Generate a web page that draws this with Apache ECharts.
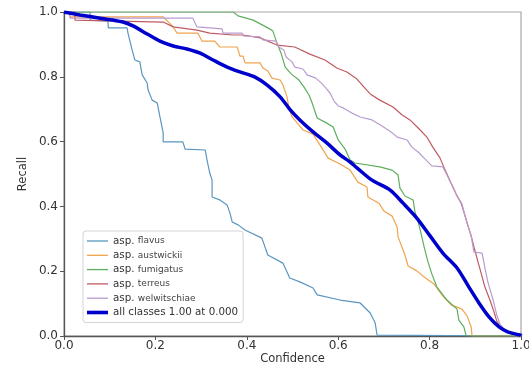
<!DOCTYPE html>
<html>
<head>
<meta charset="utf-8">
<script src="https://cdn.jsdelivr.net/npm/echarts@6/dist/echarts.min.js"></script>
<style>
  html, body { margin: 0; padding: 0; background: #fff; }
  #chart { width: 529px; height: 366px; }
</style>
</head>
<body>
<div id="chart"></div>
<script>
// Recall vs. confidence threshold, per class and over all classes
const xTicks = [0.0, 0.2, 0.4, 0.6, 0.8, 1.0];
const yTicks = [0.0, 0.2, 0.4, 0.6, 0.8, 1.0];

const classNames = ['flavus', 'austwickii', 'fumigatus', 'terreus', 'welwitschiae'];
const allLabel = 'all classes 1.00 at 0.000';

const flavus = [
  [0, 1.0], [0.057, 1.0], [0.057, 0.975], [0.096, 0.972], [0.097, 0.951], [0.138, 0.951],
  [0.140, 0.935], [0.149, 0.883], [0.155, 0.852], [0.166, 0.846], [0.171, 0.806], [0.182, 0.781],
  [0.184, 0.759], [0.193, 0.728], [0.204, 0.719], [0.210, 0.676], [0.217, 0.627], [0.217, 0.599],
  [0.260, 0.599], [0.265, 0.577], [0.309, 0.574], [0.313, 0.543], [0.319, 0.503], [0.324, 0.481],
  [0.324, 0.429], [0.341, 0.420], [0.357, 0.404], [0.363, 0.380], [0.368, 0.352], [0.381, 0.343],
  [0.396, 0.327], [0.433, 0.302], [0.446, 0.250], [0.479, 0.225], [0.494, 0.179], [0.516, 0.167],
  [0.545, 0.148], [0.554, 0.127], [0.604, 0.111], [0.648, 0.102], [0.670, 0.071], [0.681, 0.040],
  [0.685, 0.003], [0.685, 0], [1.0, 0]
];

const austwickii = [
  [0, 1.0], [0.013, 1.0], [0.013, 0.985], [0.217, 0.985], [0.239, 0.954], [0.247, 0.935],
  [0.293, 0.935], [0.302, 0.910], [0.330, 0.910], [0.341, 0.892], [0.379, 0.892], [0.385, 0.864],
  [0.392, 0.864], [0.396, 0.843], [0.429, 0.843], [0.435, 0.827], [0.446, 0.818], [0.455, 0.796],
  [0.473, 0.790], [0.479, 0.775], [0.488, 0.738], [0.492, 0.704], [0.499, 0.676], [0.523, 0.636],
  [0.545, 0.623], [0.560, 0.590], [0.578, 0.549], [0.604, 0.531], [0.626, 0.512], [0.643, 0.475],
  [0.663, 0.460], [0.665, 0.429], [0.689, 0.410], [0.700, 0.386], [0.718, 0.370], [0.729, 0.336],
  [0.731, 0.306], [0.746, 0.250], [0.753, 0.216], [0.772, 0.201], [0.788, 0.182], [0.810, 0.160],
  [0.829, 0.123], [0.847, 0.096], [0.871, 0.083], [0.882, 0.062], [0.891, 0.028], [0.893, 0], [1.0, 0]
];

const fumigatus = [
  [0, 1.0], [0.370, 1.0], [0.381, 0.988], [0.414, 0.975], [0.446, 0.951], [0.457, 0.941],
  [0.466, 0.904], [0.475, 0.873], [0.484, 0.830], [0.497, 0.809], [0.514, 0.790], [0.525, 0.769],
  [0.536, 0.744], [0.543, 0.719], [0.554, 0.673], [0.575, 0.657], [0.589, 0.645], [0.600, 0.605],
  [0.615, 0.577], [0.626, 0.543], [0.637, 0.534], [0.691, 0.522], [0.718, 0.512], [0.731, 0.497],
  [0.735, 0.457], [0.746, 0.432], [0.764, 0.420], [0.768, 0.383], [0.775, 0.352], [0.781, 0.318],
  [0.788, 0.275], [0.796, 0.231], [0.805, 0.191], [0.816, 0.151], [0.838, 0.111], [0.860, 0.083],
  [0.864, 0.049], [0.875, 0.028], [0.880, 0], [1.0, 0]
];

const terreus = [
  [0, 1.0], [0.024, 1.0], [0.024, 0.975], [0.217, 0.969], [0.239, 0.954], [0.291, 0.944],
  [0.319, 0.935], [0.370, 0.929], [0.392, 0.929], [0.429, 0.920], [0.466, 0.898], [0.505, 0.892],
  [0.538, 0.870], [0.571, 0.852], [0.597, 0.827], [0.619, 0.815], [0.641, 0.793], [0.656, 0.769],
  [0.670, 0.747], [0.691, 0.728], [0.720, 0.707], [0.740, 0.682], [0.757, 0.667], [0.775, 0.642],
  [0.794, 0.614], [0.807, 0.583], [0.823, 0.549], [0.834, 0.512], [0.845, 0.478], [0.858, 0.438],
  [0.869, 0.410], [0.875, 0.383], [0.884, 0.340], [0.891, 0.309], [0.897, 0.275], [0.906, 0.228],
  [0.912, 0.198], [0.921, 0.151], [0.932, 0.111], [0.941, 0.074], [0.947, 0.046], [0.956, 0.025],
  [0.976, 0.009], [0.998, 0], [1.0, 0]
];

const welwitschiae = [
  [0, 1.0], [0.013, 1.0], [0.013, 0.981], [0.282, 0.981], [0.291, 0.954], [0.346, 0.948],
  [0.348, 0.935], [0.390, 0.935], [0.392, 0.926], [0.429, 0.923], [0.435, 0.914], [0.464, 0.910],
  [0.470, 0.892], [0.481, 0.883], [0.486, 0.861], [0.499, 0.846], [0.505, 0.830], [0.523, 0.824],
  [0.532, 0.806], [0.551, 0.796], [0.565, 0.778], [0.575, 0.762], [0.582, 0.750], [0.591, 0.725],
  [0.600, 0.710], [0.611, 0.704], [0.630, 0.688], [0.648, 0.676], [0.674, 0.667], [0.696, 0.648],
  [0.718, 0.627], [0.729, 0.614], [0.751, 0.605], [0.761, 0.583], [0.775, 0.568], [0.788, 0.549],
  [0.805, 0.525], [0.829, 0.522], [0.838, 0.497], [0.849, 0.466], [0.860, 0.432], [0.871, 0.407],
  [0.877, 0.373], [0.884, 0.340], [0.891, 0.309], [0.897, 0.259], [0.915, 0.256], [0.921, 0.210],
  [0.928, 0.164], [0.939, 0.111], [0.947, 0.065], [0.954, 0.037], [0.967, 0.015], [0.980, 0.006],
  [0.998, 0], [1.0, 0]
];

const allClasses = [
  [0, 1.0], [0.035, 0.991], [0.079, 0.981], [0.107, 0.975], [0.129, 0.969], [0.151, 0.957],
  [0.182, 0.932], [0.210, 0.910], [0.239, 0.895], [0.269, 0.886], [0.298, 0.873], [0.326, 0.852],
  [0.357, 0.830], [0.385, 0.815], [0.418, 0.799], [0.444, 0.775], [0.473, 0.738], [0.495, 0.698],
  [0.516, 0.667], [0.545, 0.630], [0.575, 0.596], [0.604, 0.559], [0.626, 0.537], [0.641, 0.519],
  [0.674, 0.481], [0.713, 0.451], [0.742, 0.410], [0.772, 0.364], [0.801, 0.309], [0.829, 0.256],
  [0.860, 0.210], [0.886, 0.151], [0.908, 0.102], [0.930, 0.059], [0.952, 0.028], [0.972, 0.012],
  [0.998, 0.003], [1.0, 0]
];

const classData = [flavus, austwickii, fumigatus, terreus, welwitschiae];
const classColors = ['#5a96c0', '#f0a44e', '#5eae5e', '#c05a62', '#b99ccf'];
const allColor = '#0000cc';

const font = 'DejaVu Sans';
const fmt = v => Number(v).toFixed(1);

// Legend keys: a horizontal bar inside a fixed 21x14 box (the leading moves pin the box size)
const lineIcon = h => {
  const a = (7 - h / 2).toFixed(2), b = (7 + h / 2).toFixed(2);
  return 'path://M0,0 M21,14 M0,' + a + ' L21,' + a + ' L21,' + b + ' L0,' + b + ' Z';
};

const series = classNames.map((n, i) => ({
  name: 'asp. ' + n,
  type: 'line',
  data: classData[i],
  symbol: 'none',
  lineStyle: { color: classColors[i], width: 1.2 },
  itemStyle: { color: classColors[i] },
  z: 2
}));
series.push({
  name: allLabel,
  type: 'line',
  data: allClasses,
  symbol: 'none',
  smooth: 0.3,
  lineStyle: { color: allColor, width: 3.5 },
  itemStyle: { color: allColor },
  z: 3
});

const chart = echarts.init(document.getElementById('chart'), null, { renderer: 'canvas' });
chart.setOption({
  animation: false,
  backgroundColor: '#ffffff',
  grid: {
    left: 64, right: 8, top: 12, bottom: 30,
    outerBoundsMode: 'none',
    containLabel: false,
    show: true, borderColor: '#a8a8a8', borderWidth: 1.2, backgroundColor: 'transparent'
  },
  xAxis: {
    type: 'value', min: xTicks[0], max: xTicks[xTicks.length - 1], interval: 0.2,
    name: 'Confidence', nameLocation: 'middle', nameGap: 17, nameMoveOverlap: false,
    nameTextStyle: { fontFamily: font, fontSize: 11.5, color: '#333' },
    axisLine: { show: true, lineStyle: { color: '#555', width: 1.3 } },
    axisTick: { show: true, length: 4, lineStyle: { color: '#555' } },
    axisLabel: { formatter: fmt, fontFamily: font, fontSize: 12, color: '#333', margin: 4 },
    splitLine: { show: false }
  },
  yAxis: {
    type: 'value', min: yTicks[0], max: yTicks[yTicks.length - 1], interval: 0.2,
    name: 'Recall', nameLocation: 'middle', nameGap: 35, nameRotate: 90, nameMoveOverlap: false,
    nameTextStyle: { fontFamily: font, fontSize: 11.5, color: '#333' },
    axisLine: { show: true, lineStyle: { color: '#555', width: 1.3 } },
    axisTick: { show: true, length: 4, lineStyle: { color: '#555' } },
    axisLabel: { formatter: fmt, fontFamily: font, fontSize: 12, color: '#333', margin: 6 },
    splitLine: { show: false }
  },
  legend: {
    orient: 'vertical',
    left: 83, top: 231,
    padding: [3, 5, 3, 4],
    itemWidth: 21, itemHeight: 14, itemGap: 0.3,
    backgroundColor: '#ffffff',
    borderColor: '#d4d4d4', borderWidth: 1, borderRadius: 3,
    data: series.map((s, i) => ({
      name: s.name,
      icon: lineIcon(i < classNames.length ? 1.3 : 3.6)
    })),
    formatter: name => {
      if (name.indexOf('asp. ') === 0) {
        return '{a|asp.} {b|' + name.slice(5) + '}';
      }
      return '{c|' + name + '}';
    },
    textStyle: {
      color: '#333',
      rich: {
        a: { fontFamily: font, fontSize: 10.3, color: '#333', height: 14 },
        b: { fontFamily: font, fontSize: 9, color: '#444', height: 14 },
        c: { fontFamily: font, fontSize: 10.3, color: '#333', height: 14 }
      }
    }
  },
  series: series
});
</script>
</body>
</html>
